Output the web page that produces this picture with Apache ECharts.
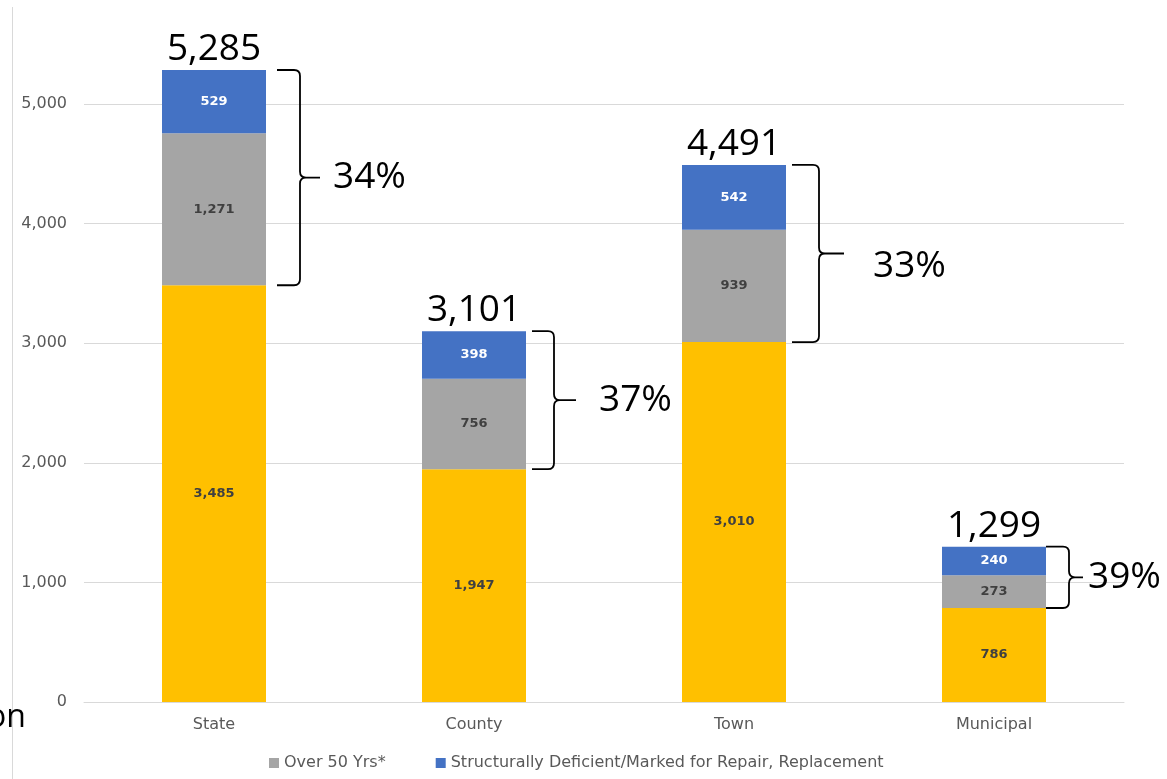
<!DOCTYPE html>
<html>
<head>
<meta charset="utf-8">
<script src="https://cdn.jsdelivr.net/npm/echarts@6/dist/echarts.min.js"></script>
<style>
html,body{margin:0;padding:0;background:#fff;}
#chart{width:1167px;height:779px;}
</style>
</head>
<body>
<div id="chart"></div>
<script>
// ---- data ----
var categories = ['State', 'County', 'Town', 'Municipal'];
var under50 = [3485, 1947, 3010, 786];
var over50 = [1271, 756, 939, 273];
var deficient = [529, 398, 542, 240];
var totals = [5285, 3101, 4491, 1299];
var percentLabels = ['34%', '37%', '33%', '39%'];
var yTicks = [0, 1000, 2000, 3000, 4000, 5000];
var legendNames = ['Over 50 Yrs*', 'Structurally Deficient/Marked for Repair, Replacement'];

// ---- annotation layout (pixel offsets from bar right edge) ----
var braceLayout = [
  {start: 11, vert: 34, tip: 54, text: 67, textDy: 0},
  {start: 6, vert: 28, tip: 50, text: 73, textDy: 0},
  {start: 6, vert: 33, tip: 58, text: 87, textDy: 13},
  {start: 0, vert: 23, tip: 37, text: 42, textDy: 0}
];

function fmt(v) { return Number(v).toLocaleString('en-US'); }

var chart = echarts.init(document.getElementById('chart'), null, {renderer: 'canvas'});
var tickFont = 'DejaVu Sans';
var bigFont = 'Open Sans';

function renderBrace(params, api) {
  var i = api.value(0);
  var top = api.coord([i, api.value(2)]);
  var bot = api.coord([i, api.value(1)]);
  var bw = api.size([1, 0])[0] * 0.4;
  var right = top[0] + bw / 2;
  var L = braceLayout[i];
  var xs = right + L.start, xv = right + L.vert, xt = right + L.tip;
  var yTop = top[1], yBot = bot[1];
  var ym = (yTop + yBot) / 2;
  var r = 6;
  var d = 'M' + xs + ',' + yTop + ' L' + (xv - r) + ',' + yTop +
    ' Q' + xv + ',' + yTop + ' ' + xv + ',' + (yTop + r) +
    ' L' + xv + ',' + (ym - r) +
    ' Q' + xv + ',' + ym + ' ' + (xv + r) + ',' + ym +
    ' L' + xt + ',' + ym +
    ' M' + (xv + r) + ',' + ym +
    ' Q' + xv + ',' + ym + ' ' + xv + ',' + (ym + r) +
    ' L' + xv + ',' + (yBot - r) +
    ' Q' + xv + ',' + yBot + ' ' + (xv - r) + ',' + yBot +
    ' L' + xs + ',' + yBot;
  return {
    type: 'group',
    children: [
      {type: 'path', shape: {pathData: d}, style: {fill: 'none', stroke: '#000', lineWidth: 1.8}},
      {type: 'text', x: right + L.text, y: ym + L.textDy,
        style: {text: percentLabels[i], fontFamily: bigFont, fontSize: 37, fill: '#000',
          verticalAlign: 'middle', align: 'left'}}
    ]
  };
}

var option = {
  backgroundColor: '#fff',
  animation: false,
  grid: {left: 84, right: 43, top: 8.4, bottom: 77, containLabel: false},
  legend: {
    data: legendNames,
    left: 264, top: 750,
    itemWidth: 10, itemHeight: 10, itemGap: 50,
    icon: 'rect',
    textStyle: {fontFamily: tickFont, fontSize: 16, color: '#595959'}
  },
  xAxis: {
    type: 'category',
    data: categories,
    axisLine: {lineStyle: {color: '#d9d9d9', width: 1}},
    axisTick: {show: false},
    axisLabel: {fontFamily: tickFont, fontSize: 16, color: '#595959', margin: 15}
  },
  yAxis: {
    type: 'value',
    min: 0, max: 5800, interval: 1000,
    axisLine: {show: false},
    axisTick: {show: false},
    splitLine: {showMaxLine: false, lineStyle: {color: '#d9d9d9', width: 1}},
    axisLabel: {
      showMaxLabel: false,
      fontFamily: tickFont, fontSize: 16, color: '#595959', margin: 17,
      formatter: function (v) { return yTicks.indexOf(v) >= 0 ? fmt(v) : ''; }
    }
  },
  series: [
    {
      name: 'Under 50 Yrs', type: 'bar', stack: 'b', data: under50,
      barWidth: '40%',
      itemStyle: {color: '#FFC000'},
      label: {show: true, position: 'inside', fontFamily: tickFont, fontWeight: 'bold', fontSize: 13, color: '#404040',
        formatter: function (p) { return fmt(p.value); }}
    },
    {
      name: legendNames[0], type: 'bar', stack: 'b', data: over50,
      barWidth: '40%',
      itemStyle: {color: '#A5A5A5'},
      label: {show: true, position: 'inside', fontFamily: tickFont, fontWeight: 'bold', fontSize: 13, color: '#404040',
        formatter: function (p) { return fmt(p.value); }}
    },
    {
      name: legendNames[1], type: 'bar', stack: 'b', data: deficient,
      barWidth: '40%',
      itemStyle: {color: '#4472C4'},
      label: {show: true, position: 'inside', fontFamily: tickFont, fontWeight: 'bold', fontSize: 13, color: '#ffffff',
        formatter: function (p) { return fmt(p.value); }}
    },
    {
      name: 'Total', type: 'scatter', symbolSize: 0,
      data: totals.map(function (t, i) { return [i, t]; }),
      label: {show: true, position: 'top', distance: 2, fontFamily: bigFont, fontSize: 37, color: '#000000',
        textBorderWidth: 0, opacity: 1,
        formatter: function (p) { return fmt(totals[p.dataIndex]); }},
      silent: true
    },
    {
      name: 'Braces', type: 'custom', clip: false, silent: true,
      data: totals.map(function (t, i) { return [i, under50[i], t]; }),
      renderItem: renderBrace
    }
  ],
  graphic: [
    {type: 'line', shape: {x1: 12.5, y1: 7, x2: 12.5, y2: 779},
      style: {stroke: '#d9d9d9', lineWidth: 1}, silent: true, z: 1},
    {type: 'text', x: -13, y: 718,
      style: {text: 'on', fontFamily: bigFont, fontSize: 32, fill: '#000', verticalAlign: 'middle'},
      silent: true, z: 2}
  ]
};
chart.setOption(option);
</script>
</body>
</html>
